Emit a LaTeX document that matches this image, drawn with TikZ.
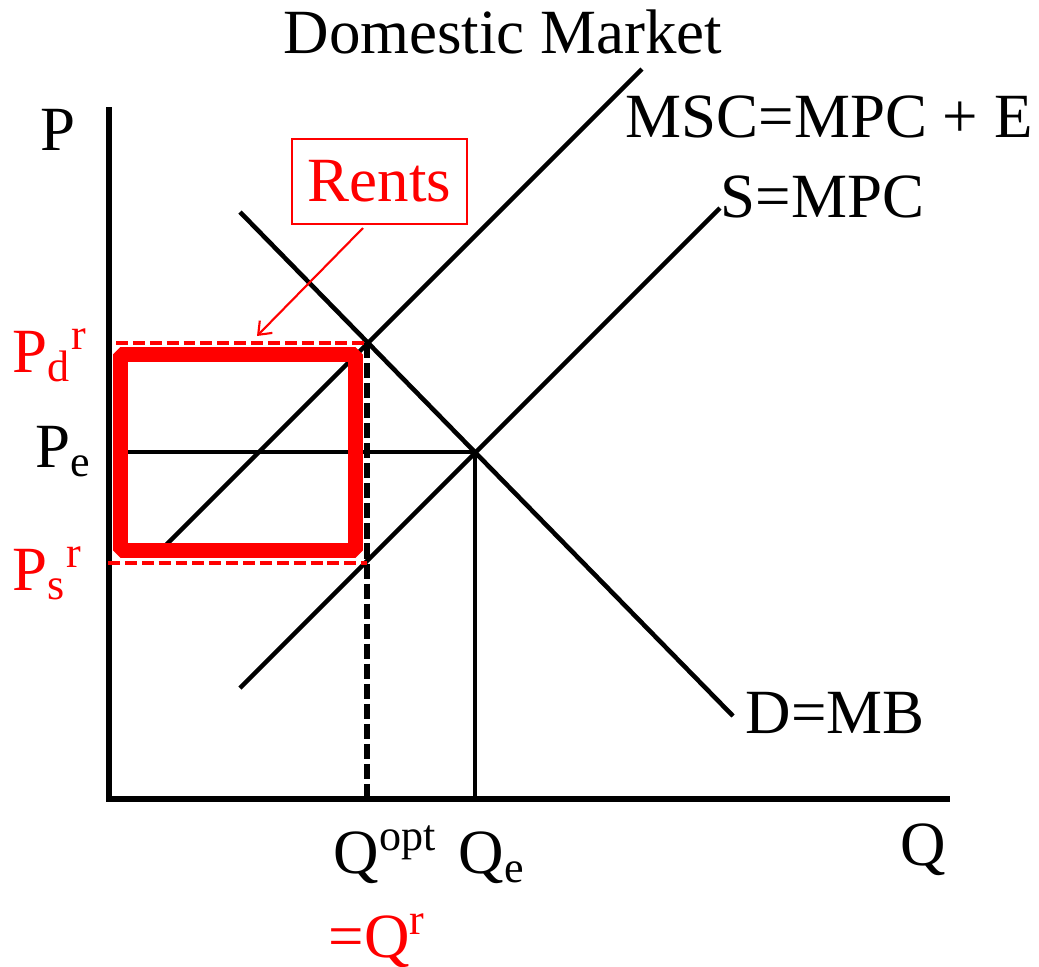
\documentclass[tikz,border=0pt]{standalone}
\usepackage{fontspec}
\setmainfont{Liberation Serif}
\usetikzlibrary{arrows.meta}
\tikzset{
  axis/.style    = {line width=1.7pt},
  curve/.style   = {line width=1.3pt},
  guide/.style   = {line width=1.6pt, dash pattern=on 4.3pt off 1.4pt},
  rguide/.style  = {red, line width=1.3pt, dash pattern=on 3.4pt off 1.4pt},
  rentbox/.style = {draw=red, line width=4.3pt, line join=bevel},  % rent rectangle
  lbl/.style     = {inner sep=0pt, anchor=base west, font=\fontsize{17.9}{21}\selectfont},
  rlbl/.style    = {lbl, text=red},
  tag/.style     = {draw=red, line width=0.6pt, text=red, inner sep=0pt,
                    minimum width=1.75cm, minimum height=0.85cm,
                    font=\fontsize{17.9}{21}\selectfont},
  arrow/.style   = {-{Straight Barb[length=3.2pt,width=5pt]}, red, line width=0.6pt},
}

\begin{document}
\begin{tikzpicture}[x=0.01cm, y=-0.01cm]
  \useasboundingbox (0,0) rectangle (1039,966);

  \coordinate (ytop) at (109,107);
  \coordinate (orig) at (109,799);
  \coordinate (xend) at (950,799);
  \coordinate (msc0) at (165,546);
  \coordinate (msc1) at (642,69);
  \coordinate (s0)   at (240,688);
  \coordinate (s1)   at (720,208);
  \coordinate (d0)   at (240,212);
  \coordinate (d1)   at (733,716);
  \coordinate (eq)   at (475,452);
  \coordinate (pe0)  at (128,452);
  \coordinate (qe0)  at (475,799);
  \coordinate (opt)  at (367,343);
  \coordinate (opt0) at (367,799);
  \coordinate (pd0)  at (116,343);
  \coordinate (low)  at (367,563);
  \coordinate (ps0)  at (108,563);
  \coordinate (rb0)  at (120.5,354.5);
  \coordinate (rb1)  at (355.5,550.5);
  \coordinate (tail) at (363,228);
  \coordinate (tip)  at (257,336);

  \node[lbl]  at (503,53)  (title) [anchor=base] {Domestic Market};
  \node[lbl]  at (40,150)  (plbl)  {P};
  \node[lbl]  at (625,137) (msclbl) {MSC=MPC + E};
  \node[lbl]  at (720,217) (slbl)  {S=MPC};
  \node[lbl]  at (745,733) (dlbl)  {D=MB};
  \node[lbl]  at (900,865) (qlbl)  {Q};
  \node[lbl]  at (333,873) (qopt)  {Q\textsuperscript{opt}};
  \node[lbl]  at (458,873) (qe)    {Q\textsubscript{e}};
  \node[rlbl] at (328,957) (qr)    {=Q\textsuperscript{r}};
  \node[rlbl] at (12,372)  (pd)    {P\textsubscript{d}\textsuperscript{r}};
  \node[lbl]  at (35,467)  (pe)    {P\textsubscript{e}};
  \node[rlbl] at (12,590)  (ps)    {P\textsubscript{s}\textsuperscript{r}};
  \node[tag]  at (379.5,181.5) (rents) {Rents};

  \draw[axis]  (ytop) |- (xend);
  \draw[curve] (msc0) -- (msc1);
  \draw[curve] (s0)   -- (s1);
  \draw[curve] (d0)   -- (d1);
  \draw[curve] (pe0)  -- (eq);
  \draw[curve] (eq)   -- (qe0);
  \draw[guide] (opt)  -- (opt0);
  \draw[rguide] (pd0) -- (opt);
  \draw[rguide] (ps0) -- (low);
  \draw[rentbox] (rb0) rectangle (rb1);
  \draw[arrow] (tail) -- (tip);
\end{tikzpicture}
\end{document}
